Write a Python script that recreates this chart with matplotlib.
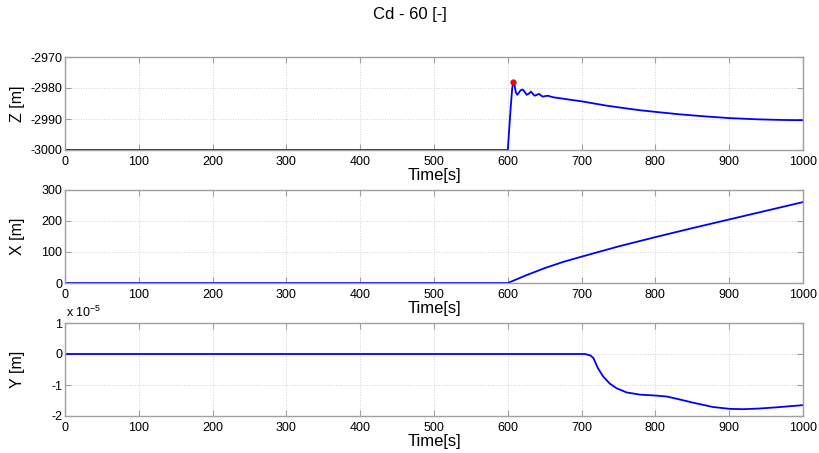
import matplotlib
matplotlib.use("Agg")
import matplotlib.pyplot as plt
from matplotlib.ticker import FuncFormatter

plt.rcParams['font.family'] = ['Liberation Sans', 'DejaVu Sans']
plt.rcParams['mathtext.fontset'] = 'custom'
plt.rcParams['mathtext.rm'] = 'Liberation Sans'
plt.rcParams['mathtext.default'] = 'regular'
plt.rcParams['axes.unicode_minus'] = False

title = "Cd - 60 [-]"

# Z [m]
t_z = [0, 600, 602, 604, 606, 607.5, 609, 611, 612.9, 615, 617.5, 620.2, 623, 625.6,
       628.5, 631.4, 634, 636.4, 639.5, 642.3, 645, 647.3, 651, 654.9, 657, 661.7,
       670.7, 685, 700, 717, 734, 761, 780, 800, 833, 869.5, 900, 937, 970, 1000]
z_vals = [-3000, -3000, -2993, -2986, -2980, -2978.2, -2979, -2981.5, -2982.2, -2981.5,
          -2980.7, -2980.5, -2981.3, -2982.2, -2981.8, -2981.2, -2981.9, -2982.5, -2982.2,
          -2981.9, -2982.4, -2982.8, -2982.6, -2982.5, -2982.7, -2983.0,
          -2983.3, -2983.8, -2984.3, -2985.0, -2985.7, -2986.6, -2987.2, -2987.7,
          -2988.5, -2989.2, -2989.7, -2990.1, -2990.3, -2990.4]
peak_t = 607.5
peak_z = -2978.2

# X [m]
t_x = [0, 600, 605, 610, 625, 650, 675, 700, 750, 800, 850, 900, 950, 1000]
x_vals = [0, 0, 5, 10, 25, 48, 68, 85, 118, 148, 177, 205, 233, 261]

# Y [m]
t_y = [0, 600, 705, 712, 716, 722, 729, 738, 747, 761, 779, 800, 815, 830, 851, 878,
       901, 919, 940, 964, 1000]
y_vals = [0, 0, 0, -0.05e-5, -0.13e-5, -0.45e-5, -0.72e-5, -0.95e-5, -1.1e-5, -1.24e-5,
          -1.31e-5, -1.34e-5, -1.37e-5, -1.45e-5, -1.57e-5, -1.71e-5, -1.77e-5, -1.78e-5,
          -1.76e-5, -1.72e-5, -1.65e-5]

x_ticks = [0, 100, 200, 300, 400, 500, 600, 700, 800, 900, 1000]

fig = plt.figure(figsize=(8.19, 4.53), dpi=100)
W, H = 819, 453
left = 65 / W
width = 738 / W
h = 93 / H
bots = [1 - 150 / H, 1 - 283 / H, 1 - 416 / H]
axes = [fig.add_axes([left, b, width, h]) for b in bots]

frame = '#a0a0a0'
for ax in axes:
    ax.set_xlim(0, 1000)
    ax.set_xticks(x_ticks)
    ax.grid(True, linestyle=':', color='#d0d0d0', linewidth=0.7)
    for s in ax.spines.values():
        s.set_color(frame)
        s.set_linewidth(1.0)
    ax.tick_params(direction='in', top=True, right=True, color=frame, labelsize=9,
                   length=4, labelcolor='black')
    ax.tick_params(axis='x', pad=4)
    ax.tick_params(axis='y', pad=2)
    ax.set_xlabel('Time[s]', fontsize=12, labelpad=0)

ax1, ax2, ax3 = axes
ax1.plot(t_z, z_vals, color='blue', lw=1.3)
ax1.plot([peak_t], [peak_z], 'o', color='red', ms=3.5)
ax1.set_ylim(-3000, -2970)
ax1.set_yticks([-3000, -2990, -2980, -2970])
ax1.set_ylabel('Z [m]', fontsize=11.5)

ax2.plot(t_x, x_vals, color='blue', lw=1.3)
ax2.set_ylim(0, 300)
ax2.set_yticks([0, 100, 200, 300])
ax2.set_ylabel('X [m]', fontsize=11.5)

ax3.plot(t_y, y_vals, color='blue', lw=1.3)
ax3.set_ylim(-2e-5, 1e-5)
ax3.set_yticks([-2e-5, -1e-5, 0, 1e-5])
ax3.yaxis.set_major_formatter(FuncFormatter(lambda v, p: '%g' % round(v / 1e-5)))
ax3.set_ylabel('Y [m]', fontsize=11.5)
ax3.text(0.002, 1.03, 'x 10$^{-5}$', transform=ax3.transAxes, ha='left', va='bottom',
         fontsize=9)

for ax in axes:
    ax.yaxis.set_label_coords(-40 / 738, 0.5)

fig.text(0.5, 1 - 14 / H, title, ha='center', va='center', fontsize=12)

fig.savefig('out.png', dpi=100)
